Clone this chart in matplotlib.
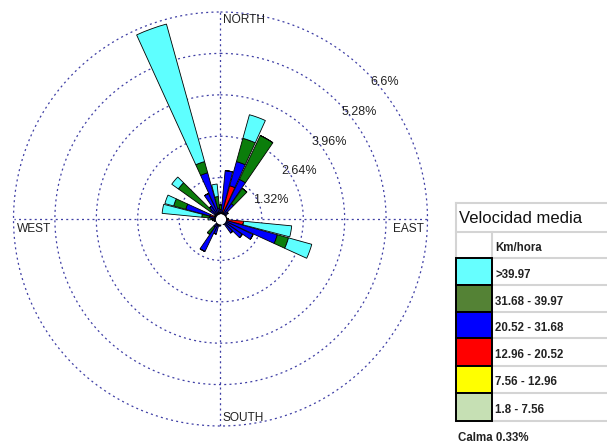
import numpy as np
import matplotlib
matplotlib.use("Agg")
import matplotlib.pyplot as plt
from matplotlib.patches import Rectangle

plt.rcParams['font.family'] = ['Liberation Sans', 'DejaVu Sans']

# ---------------- data ----------------
directions_deg = list(range(0, 360, 10))
# percent of time in each speed class per direction (0,10,...,350 deg)
s_1_8 = [0.05, 0.05, 0.10, 0.05, 0.05, 0.05, 0.04, 0.04, 0.04, 0.05, 0.10, 0.05,
         0.05, 0.05, 0.05, 0.05, 0.04, 0.04, 0.05, 0.05, 0.05, 0.05, 0.05, 0.04,
         0.04, 0.04, 0.05, 0.05, 0.05, 0.10, 0.04, 0.05, 0.05, 0.05, 0.05, 0.05]
s_7_56 = [0.05, 0.05, 0.10, 0.05, 0.05, 0.05, 0.04, 0.04, 0.05, 0.05, 0.10, 0.05,
          0.05, 0.05, 0.05, 0.05, 0.04, 0.03, 0.08, 0.08, 0.05, 0.07, 0.05, 0.04,
          0.04, 0.04, 0.05, 0.05, 0.05, 0.10, 0.04, 0.05, 0.05, 0.05, 0.05, 0.05]
s_12_96 = [0.05, 0.10, 0.90, 0.10, 0.05, 0.05, 0.04, 0.03, 0.04, 0.10, 0.54, 0.10,
           0.05, 0.05, 0.05, 0.03, 0.03, 0.03, 0.02, 0.04, 0.05, 0.08, 0.05, 0.03,
           0.03, 0.04, 0.05, 0.05, 0.05, 0.15, 0.04, 0.10, 0.05, 0.10, 0.10, 0.10]
s_20_52 = [0.15, 1.35, 0.80, 1.20, 0.45, 0.15, 0.08, 0.06, 0.07, 0.05, 0.00, 1.68,
           1.00, 0.70, 0.40, 0.07, 0.04, 0.00, 0.05, 0.05, 0.35, 0.95, 0.15, 0.04,
           0.04, 0.08, 0.10, 0.10, 0.20, 0.80, 0.08, 0.20, 0.35, 0.70, 1.33, 0.15]
s_31_68 = [0.15, 0.00, 0.77, 1.55, 0.60, 0.00, 0.00, 0.00, 0.00, 0.00, 0.00, 0.37,
           0.00, 0.00, 0.00, 0.00, 0.00, 0.00, 0.00, 0.00, 0.00, 0.00, 0.30, 0.00,
           0.00, 0.00, 0.00, 0.05, 0.25, 0.40, 0.00, 1.25, 0.00, 0.00, 0.37, 0.37]
s_39_97 = [0.00, 0.00, 0.78, 0.00, 0.00, 0.00, 0.00, 0.00, 0.00, 0.00, 1.54, 0.77,
           0.00, 0.00, 0.00, 0.00, 0.00, 0.00, 0.00, 0.00, 0.00, 0.00, 0.00, 0.00,
           0.00, 0.00, 0.00, 0.10, 1.27, 0.29, 0.00, 0.26, 0.00, 0.00, 4.55, 0.40]

speed_labels = ['>39.97', '31.68 - 39.97', '20.52 - 31.68',
                '12.96 - 20.52', '7.56 - 12.96', '1.8 - 7.56']
ring_values = [1.32, 2.64, 3.96, 5.28, 6.6]
ring_labels = ['1.32%', '2.64%', '3.96%', '5.28%', '6.6%']
compass_labels = ['NORTH', 'EAST', 'SOUTH', 'WEST']
calm_pct = 0.33

# ---------------- style ----------------
bar_colors = ['#c6e0b4', '#ffff00', '#ff0000', '#0000ff', '#0b7d0b', '#5effff']
legend_colors = ['#66ffff', '#548235', '#0000ff', '#ff0000', '#ffff00', '#c6e0b4']
grid_color = '#3f3fa5'
grid_ls = (0, (1.6, 2.6))

W, H = 607, 444
fig = plt.figure(figsize=(W / 100, H / 100), dpi=100)
fig.patch.set_facecolor('white')

cx, cy, R = 220.5, 219.0, 207.0
ax = fig.add_axes([(cx - R) / W, (H - cy - R) / H, 2 * R / W, 2 * R / H],
                  projection='polar')
ax.set_theta_zero_location('N')
ax.set_theta_direction(-1)
ax.set_ylim(0, ring_values[-1])
ax.grid(False)
ax.set_xticks([])
ax.set_yticks([])
ax.spines['polar'].set_visible(False)
ax.patch.set_alpha(0)

# rings
th = np.linspace(0, 2 * np.pi, 400)
for rv in ring_values:
    ax.plot(th, np.full_like(th, rv), color=grid_color, lw=0.9,
            ls=grid_ls, clip_on=False, zorder=1)
# cross lines
for a in [0, 90, 180, 270]:
    t = np.deg2rad(a)
    ax.plot([t, t], [0, ring_values[-1]], color=grid_color, lw=0.9,
            ls=grid_ls, clip_on=False, zorder=1)

# stacked bars
theta = np.deg2rad(directions_deg)
width = np.deg2rad(9)
bottom = np.zeros(len(directions_deg))
for vals, col in zip([s_1_8, s_7_56, s_12_96, s_20_52, s_31_68, s_39_97], bar_colors):
    v = np.array(vals)
    ax.bar(theta, v, width=width, bottom=bottom, color=col, edgecolor='black',
           linewidth=0.6, zorder=3)
    bottom = bottom + v

# calm hole
ax.fill_between(th, 0, 0.14, color='white', zorder=6)

# ring labels
label_theta = [69.2, 58.7, 54.6, 52.4, 50.3]
label_offset = [0.39, 0.31, 0.30, 0.31, 0.22]
for rv, lab, ang, off in zip(ring_values, ring_labels, label_theta, label_offset):
    ax.text(np.deg2rad(ang), rv + off, lab, fontsize=9, color='#222222',
            ha='center', va='center', clip_on=False, zorder=7)

# compass labels (axes fraction)
comp_pos = [(0.506, 0.981), (0.917, 0.476), (0.506, 0.020), (0.0085, 0.476)]
for lab, (px, py) in zip(compass_labels, comp_pos):
    ax.text(px, py, lab, transform=ax.transAxes, fontsize=8.6, color='#222222',
            ha='left', va='center', zorder=7)

# ---------------- legend table ----------------
lax = fig.add_axes([0, 0, 1, 1])
lax.set_xlim(0, W)
lax.set_ylim(H, 0)
lax.axis('off')
lax.patch.set_alpha(0)

x0, xd, x1 = 456, 492, W + 5
rows = [203.3, 231.7, 258.3, 285, 311.7, 338.3, 365.7, 393.3, 420.7]
gc = '#d4d4d4'
for y in rows:
    lax.plot([x0, x1], [y, y], color=gc, lw=1.5, clip_on=False)
lax.plot([x0, x0], [rows[0], rows[-1]], color=gc, lw=1.5)
lax.plot([xd, xd], [rows[1], rows[-1]], color=gc, lw=1.5)

for i, (lab, col) in enumerate(zip(speed_labels, legend_colors)):
    ytop, ybot = rows[2 + i], rows[3 + i]
    lax.add_patch(Rectangle((x0, ytop), xd - x0, ybot - ytop, facecolor=col,
                            edgecolor='black', lw=1.4, zorder=3))
    lax.text(xd + 3, ytop + 16.5, lab, fontsize=8.3, fontweight='bold',
             color='#222222', ha='left', va='center')

lax.text(x0 + 3, (rows[0] + rows[1]) / 2 + 1, 'Velocidad media', fontsize=12,
         color='#111111', ha='left', va='center')
lax.text(xd + 3, (rows[1] + rows[2]) / 2 + 3, 'Km/hora', fontsize=8.3,
         fontweight='bold', color='#222222', ha='left', va='center')
lax.text(x0 + 2.5, 438, f'Calma {calm_pct}%', fontsize=8.3, fontweight='bold',
         color='#222222', ha='left', va='center')

fig.savefig('out.png', dpi=100, facecolor='white')
